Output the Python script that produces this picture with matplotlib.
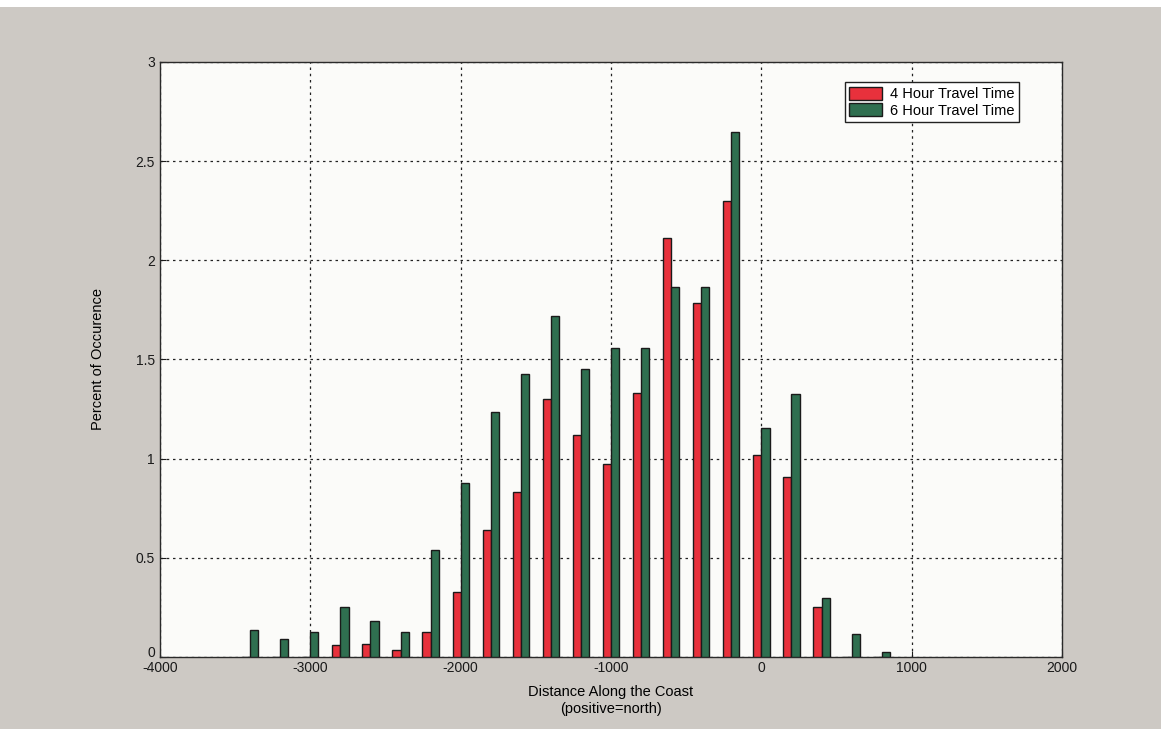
import numpy as np
import matplotlib.pyplot as plt
import matplotlib.transforms as mtransforms
from matplotlib.patches import Rectangle

plt.rcParams['font.family'] = ['Liberation Sans', 'DejaVu Sans']
plt.rcParams['axes.unicode_minus'] = False

# bin centres along the coast
distance = [-3400, -3200, -3000, -2800, -2600, -2400, -2200, -2000, -1800, -1600,
            -1400, -1200, -1000, -800, -600, -400, -200, 0, 200, 400, 600, 800]
# percent of occurrence, 4 hour travel time
pct_4h = [0.0, 0.0, 0.0, 0.06, 0.065, 0.035, 0.125, 0.33, 0.64, 0.83,
          1.30, 1.12, 0.975, 1.33, 2.11, 1.785, 2.30, 1.02, 0.905, 0.25, 0.0, 0.0]
# percent of occurrence, 6 hour travel time
pct_6h = [0.135, 0.09, 0.125, 0.25, 0.18, 0.125, 0.54, 0.875, 1.235, 1.425,
          1.72, 1.45, 1.56, 1.56, 1.865, 1.865, 2.645, 1.155, 1.325, 0.295, 0.115, 0.025]

labels = ['4 Hour Travel Time', '6 Hour Travel Time']
colors = ['#e8313c', '#2f6f50']

fig = plt.figure(figsize=(11.61, 7.29), dpi=100)
fig.patch.set_facecolor('#cdc9c4')
# thin white strip at the top of the scan
fig.patches.append(Rectangle((0, 0.99), 1, 0.01, transform=fig.transFigure,
                             facecolor='white', edgecolor='none'))

ax = fig.add_axes([0.1378, 0.0988, 0.777, 0.8162])
ax.set_facecolor('#fbfbf9')

w = 54
x = np.array(distance)
ax.bar(x, pct_4h, width=-w, align='edge', color=colors[0], edgecolor='#1a1a1a',
       linewidth=1.0, label=labels[0], zorder=3)
ax.bar(x, pct_6h, width=w, align='edge', color=colors[1], edgecolor='#1a1a1a',
       linewidth=1.0, label=labels[1], zorder=3)

ax.set_xlim(-4000, 2000)
ax.set_ylim(0, 3)
ax.set_xticks(np.arange(-4000, 2001, 1000))
ax.set_yticks(np.arange(0, 3.01, 0.5))
ax.set_yticklabels(['0', '0.5', '1', '1.5', '2', '2.5', '3'])
ax.grid(True, color='#222222', linestyle=(0, (2, 3)), linewidth=0.9, zorder=1)
ax.tick_params(direction='in', labelsize=10, length=4, colors='#1a1a1a')
ax.tick_params(axis='x', pad=3)
for s in ax.spines.values():
    s.set_color('#2a2a2a')
    s.set_linewidth(1.0)

# lift the "0" on the y axis a little so it sits above "-4000"
fig.canvas.draw()
ylab0 = ax.get_yticklabels()[0]
ylab0.set_transform(ylab0.get_transform() +
                    mtransforms.ScaledTranslation(0, 4 / 72, fig.dpi_scale_trans))

ax.set_xlabel('Distance Along the Coast\n(positive=north)', fontsize=10.5,
              labelpad=7, linespacing=1.25)
ax.set_ylabel('Percent of Occurence', fontsize=10.5, labelpad=22)

leg = ax.legend(loc='upper right', bbox_to_anchor=(0.9605, 0.978), fontsize=10.5,
                fancybox=False, framealpha=1, edgecolor='#222222',
                handlelength=2.2, handleheight=1.0, borderpad=0.3,
                labelspacing=0.15, handletextpad=0.6)
leg.get_frame().set_linewidth(1.0)

fig.savefig('out.png', dpi=100, facecolor=fig.get_facecolor())
